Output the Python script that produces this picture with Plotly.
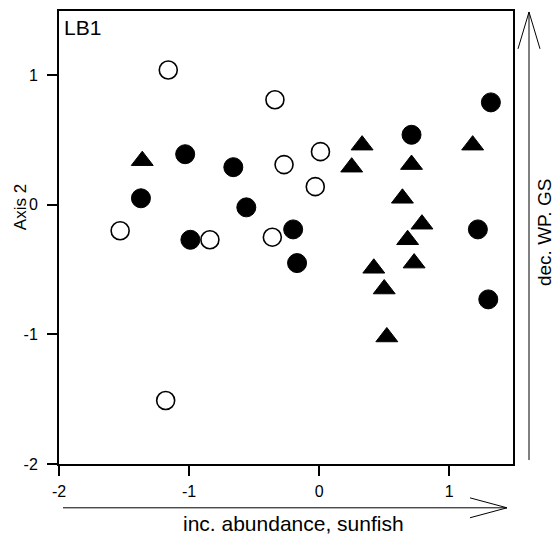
import plotly.graph_objects as go

# ---- data ----
open_x = [-1.16, -0.34, -0.27, 0.01, -0.03, -1.53, -0.84, -0.36, -1.18]
open_y = [1.04, 0.81, 0.31, 0.41, 0.14, -0.20, -0.27, -0.25, -1.51]

filled_x = [-1.37, -1.03, -0.66, -0.56, -0.99, -0.20, -0.17, 0.71, 1.32, 1.22, 1.30]
filled_y = [0.05, 0.39, 0.29, -0.02, -0.27, -0.19, -0.45, 0.54, 0.79, -0.19, -0.73]

tri_x = [-1.36, 0.33, 0.25, 0.71, 1.18, 0.64, 0.79, 0.68, 0.42, 0.73, 0.50, 0.52]
tri_y = [0.34, 0.46, 0.29, 0.31, 0.46, 0.05, -0.15, -0.27, -0.49, -0.45, -0.65, -1.02]

x_ticks = [-2, -1, 0, 1]
y_ticks = [-2, -1, 0, 1]
tick_text = ["-2", "-1", "0", "1"]

panel_label = "LB1"
x_label = "inc. abundance, sunfish"
y_label = "Axis 2"
right_label = "dec. WP. GS"

W, H = 554, 539
L, R, T, B = 59, 513, 9, 464  # plot area in pixels
FONT = "Liberation Sans, Arial, sans-serif"


def px(xp):
    return (xp - L) / (R - L)


def py(yp):
    return (B - yp) / (B - T)


fig = go.Figure()
fig.add_trace(go.Scatter(x=open_x, y=open_y, mode="markers",
                         marker=dict(symbol="circle", size=18, color="white",
                                     line=dict(color="black", width=1.6)),
                         showlegend=False))
fig.add_trace(go.Scatter(x=filled_x, y=filled_y, mode="markers",
                         marker=dict(symbol="circle", size=19, color="black",
                                     line=dict(color="black", width=1)),
                         showlegend=False))
fig.add_trace(go.Scatter(x=tri_x, y=tri_y, mode="markers",
                         marker=dict(symbol="triangle-up", size=19, color="black",
                                     line=dict(color="black", width=1)),
                         showlegend=False))

axis_common = dict(showgrid=False, zeroline=False, showline=True, mirror=True,
                   linecolor="black", linewidth=2, ticks="outside", ticklen=10,
                   tickwidth=2, tickcolor="black",
                   tickfont=dict(family=FONT, size=16, color="black"))

fig.update_xaxes(range=[-2, 1.49], tickvals=x_ticks, ticktext=tick_text,
                 ticklabelstandoff=2, **axis_common)
fig.update_yaxes(range=[-2, 1.495], tickvals=y_ticks, ticktext=tick_text,
                 ticklabelstandoff=6, **axis_common)

shapes = []
line_style = dict(color="black", width=1)
# bottom arrow
shapes.append(dict(type="line", xref="paper", yref="paper",
                   x0=px(63), y0=py(508), x1=px(507), y1=py(508), line=line_style))
shapes.append(dict(type="line", xref="paper", yref="paper",
                   x0=px(470), y0=py(498), x1=px(507), y1=py(508), line=line_style))
shapes.append(dict(type="line", xref="paper", yref="paper",
                   x0=px(470), y0=py(518), x1=px(507), y1=py(508), line=line_style))
# right arrow
shapes.append(dict(type="line", xref="paper", yref="paper",
                   x0=px(529), y0=py(460), x1=px(529), y1=py(10), line=line_style))
shapes.append(dict(type="line", xref="paper", yref="paper",
                   x0=px(518), y0=py(47), x1=px(529), y1=py(10), line=line_style))
shapes.append(dict(type="line", xref="paper", yref="paper",
                   x0=px(540), y0=py(47), x1=px(529), y1=py(10), line=line_style))

annotations = [
    dict(text=panel_label, xref="paper", yref="paper", x=px(62), y=py(26),
         xanchor="left", yanchor="middle", showarrow=False,
         font=dict(family=FONT, size=21, color="black")),
    dict(text=x_label, xref="paper", yref="paper", x=px(293), y=py(524),
         xanchor="center", yanchor="middle", showarrow=False,
         font=dict(family=FONT, size=21, color="black")),
    dict(text=y_label, xref="paper", yref="paper", x=px(20), y=py(206),
         xanchor="center", yanchor="middle", showarrow=False, textangle=-90,
         font=dict(family=FONT, size=17, color="black")),
    dict(text=right_label, xref="paper", yref="paper", x=px(544), y=py(232),
         xanchor="center", yanchor="middle", showarrow=False, textangle=-90,
         font=dict(family=FONT, size=19, color="black")),
]

fig.update_layout(width=W, height=H, margin=dict(l=L, r=W - R, t=T, b=H - B),
                  plot_bgcolor="white", paper_bgcolor="white",
                  shapes=shapes, annotations=annotations, showlegend=False)

fig.write_html("out.html")
